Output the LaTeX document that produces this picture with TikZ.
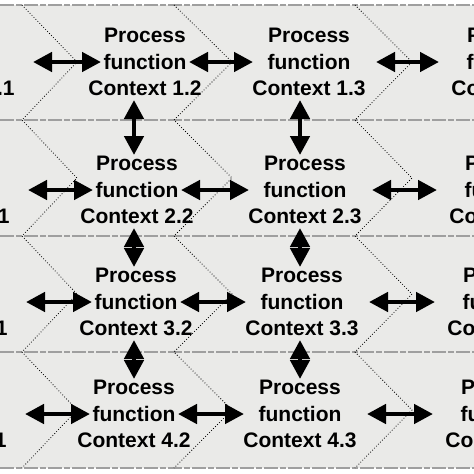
\documentclass[tikz,border=0pt]{standalone}
\usepackage{fontspec}
\setmainfont{Liberation Sans}
\usetikzlibrary{arrows.meta}

\definecolor{panelgray}{RGB}{234,234,232}

\tikzset{
	proc/.style={align=center, inner sep=0pt, font=\bfseries\fontsize{21}{26.5}\selectfont},
	link/.style={{Triangle[length=19pt,width=19pt]}-{Triangle[length=19pt,width=19pt]}, line width=4.5pt},
	lgap/.style={link, shorten <=75pt, shorten >=44pt},
	mgap/.style={link, shorten <=44pt, shorten >=56pt},
	rgap/.style={link, shorten <=67pt, shorten >=69pt},
	vgap/.style={link, shorten <=38pt, shorten >=35pt},
	band/.style={gray!75, line width=1.2pt, dash pattern=on 14pt off 2pt on 6pt off 2pt},
	zigzag/.style={black, line width=0.8pt, dotted},
}

\begin{document}
\begin{tikzpicture}[x=1pt, y=-1pt]
	\useasboundingbox (0,0) rectangle (474,474);
	\clip (0,0) rectangle (474,474);
	\fill[white] (0,0) rectangle (474,474);
	\fill[panelgray] (0,5) rectangle (474,468);

	% row borders
	\draw[band] (0,5) --   (474,5);
	\draw[band] (0,120) -- (474,120);
	\draw[band] (0,236) -- (474,236);
	\draw[band] (0,352) -- (474,352);
	\draw[band] (0,468) -- (474,468);

	% chevrons
	\draw[zigzag] (22,5) -- (77,62) -- (22,120) -- (77,178) -- (22,236) -- (77,294) -- (22,352) -- (77,410) -- (22,468);
	\draw[zigzag] (174,5) -- (232,62) -- (174,120) -- (232,178) -- (174,236) -- (232,294) -- (174,352) -- (232,410) -- (174,468);
	\draw[zigzag] (355,5) -- (412,62) -- (355,120) -- (412,178) -- (355,236) -- (412,294) -- (355,352) -- (412,410) -- (355,468);

	\node[proc] (pf11) at (-42,62) {Process\\function\\Context 1.1};
	\node[proc] (pf12) at (145,62) {Process\\function\\Context 1.2};
	\node[proc] (pf13) at (309,62) {Process\\function\\Context 1.3};
	\node[proc] (pf14) at (508,62) {Process\\function\\Context 1.4};

	\node[proc] (pf21) at (-47,190) {Process\\function\\Context 2.1};
	\node[proc] (pf22) at (137,190) {Process\\function\\Context 2.2};
	\node[proc] (pf23) at (305,190) {Process\\function\\Context 2.3};
	\node[proc] (pf24) at (506,190) {Process\\function\\Context 2.4};

	\node[proc] (pf31) at (-49,302) {Process\\function\\Context 3.1};
	\node[proc] (pf32) at (136,302) {Process\\function\\Context 3.2};
	\node[proc] (pf33) at (302,302) {Process\\function\\Context 3.3};
	\node[proc] (pf34) at (504,302) {Process\\function\\Context 3.4};

	\node[proc] (pf41) at (-50,414) {Process\\function\\Context 4.1};
	\node[proc] (pf42) at (134,414) {Process\\function\\Context 4.2};
	\node[proc] (pf43) at (300,414) {Process\\function\\Context 4.3};
	\node[proc] (pf44) at (502,414) {Process\\function\\Context 4.4};

	% horizontal links
	\draw[lgap] (pf11.center) -- (pf12.center);
	\draw[mgap] (pf12.center) -- (pf13.center);
	\draw[rgap] (pf13.center) -- (pf14.center);
	\draw[lgap] (pf21.center) -- (pf22.center);
	\draw[mgap] (pf22.center) -- (pf23.center);
	\draw[rgap] (pf23.center) -- (pf24.center);
	\draw[lgap] (pf31.center) -- (pf32.center);
	\draw[mgap] (pf32.center) -- (pf33.center);
	\draw[rgap] (pf33.center) -- (pf34.center);
	\draw[lgap] (pf41.center) -- (pf42.center);
	\draw[mgap] (pf42.center) -- (pf43.center);
	\draw[rgap] (pf43.center) -- (pf44.center);

	% vertical links
	\draw[vgap] (pf12.center -| pf42.center) -- (pf22.center -| pf42.center);
	\draw[vgap] (pf22.center -| pf42.center) -- (pf32.center -| pf42.center);
	\draw[vgap] (pf32.center -| pf42.center) -- (pf42.center);
	\draw[vgap] (pf13.center -| pf43.center) -- (pf23.center -| pf43.center);
	\draw[vgap] (pf23.center -| pf43.center) -- (pf33.center -| pf43.center);
	\draw[vgap] (pf33.center -| pf43.center) -- (pf43.center);
\end{tikzpicture}
\end{document}
